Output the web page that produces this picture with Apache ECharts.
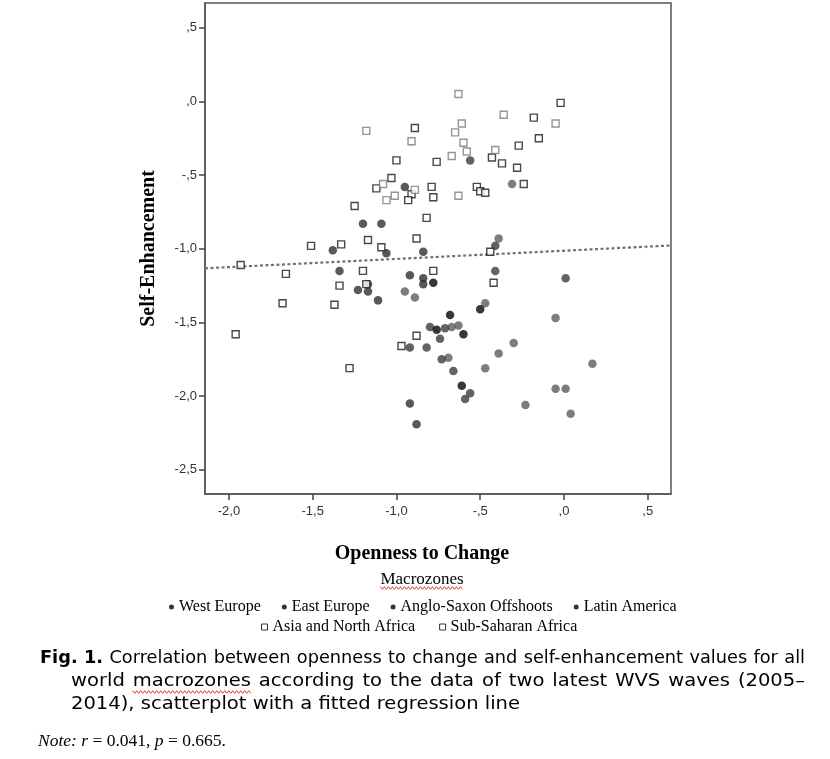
<!DOCTYPE html>
<html>
<head>
<meta charset="utf-8">
<script src="https://cdn.jsdelivr.net/npm/echarts@6/dist/echarts.min.js"></script>
<style>
html,body{margin:0;padding:0;background:#fff;}
#chart{width:830px;height:759px;}
</style>
</head>
<body>
<div id="chart"></div>
<script>
// ---- tick values / labels ----
const xTicks = [-2, -1.5, -1, -0.5, 0, 0.5];
const xTickLabels = ['-2,0', '-1,5', '-1,0', '-,5', ',0', ',5'];
const yTicks = [0.5, 0, -0.5, -1, -1.5, -2, -2.5];
const yTickLabels = [',5', ',0', '-,5', '-1,0', '-1,5', '-2,0', '-2,5'];
const xRange = [-2.143, 0.639];
const yRange = [-2.664, 0.668];

// ---- series (Openness to Change, Self-Enhancement) ----
const westEurope = [[-0.31,-0.56],[-0.39,-0.93],[-0.95,-1.29],[-0.89,-1.33],[-0.47,-1.37],[-0.05,-1.47],[-0.67,-1.53],[-0.63,-1.52],[-0.30,-1.64],[-0.39,-1.71],[-0.69,-1.74],[-0.47,-1.81],[0.17,-1.78],[-0.05,-1.95],[0.01,-1.95],[-0.23,-2.06],[0.04,-2.12]];
const eastEurope = [[-0.95,-0.58],[-1.20,-0.83],[-1.09,-0.83],[-1.38,-1.01],[-1.06,-1.03],[-0.84,-1.02],[-1.34,-1.15],[-0.92,-1.18],[-0.84,-1.20],[-0.84,-1.24],[-1.23,-1.28],[-1.17,-1.29],[-1.11,-1.35],[-1.17,-1.24],[-0.92,-2.05],[-0.88,-2.19]];
const angloSaxon = [[-0.78,-1.23],[-0.76,-1.55],[-0.50,-1.41],[-0.68,-1.45],[-0.60,-1.58],[-0.61,-1.93]];
const latinAmerica = [[-0.56,-0.40],[-0.41,-0.98],[-0.41,-1.15],[0.01,-1.20],[-0.80,-1.53],[-0.74,-1.61],[-0.92,-1.67],[-0.82,-1.67],[-0.73,-1.75],[-0.71,-1.54],[-0.66,-1.83],[-0.56,-1.98],[-0.59,-2.02]];
const asiaNorthAfrica = [[-0.89,-0.18],[-1.00,-0.40],[-0.76,-0.41],[-1.03,-0.52],[-1.12,-0.59],[-0.91,-0.63],[-0.93,-0.67],[-0.79,-0.58],[-0.78,-0.65],[-1.25,-0.71],[-0.82,-0.79],[-0.88,-0.93],[-1.17,-0.94],[-1.09,-0.99],[-1.33,-0.97],[-1.51,-0.98],[-1.93,-1.11],[-1.66,-1.17],[-1.20,-1.15],[-0.78,-1.15],[-0.02,-0.01],[-0.18,-0.11],[-0.15,-0.25],[-0.27,-0.30],[-0.43,-0.38],[-0.37,-0.42],[-0.28,-0.45],[-0.24,-0.56],[-0.52,-0.58],[-0.50,-0.61],[-0.47,-0.62],[-0.44,-1.02],[-1.34,-1.25],[-1.18,-1.24],[-1.68,-1.37],[-1.37,-1.38],[-1.96,-1.58],[-0.88,-1.59],[-0.97,-1.66],[-1.28,-1.81],[-0.42,-1.23]];
const subSaharanAfrica = [[-1.18,-0.20],[-0.91,-0.27],[-1.08,-0.56],[-1.01,-0.64],[-1.06,-0.67],[-0.89,-0.60],[-0.63,0.05],[-0.36,-0.09],[-0.05,-0.15],[-0.61,-0.15],[-0.65,-0.21],[-0.60,-0.28],[-0.58,-0.34],[-0.67,-0.37],[-0.41,-0.33],[-0.63,-0.64]];

// fitted regression line
const regIntercept = -1.013;
const regSlope = 0.0557;

const circleNames = ['West Europe', 'East Europe', 'Anglo-Saxon Offshoots', 'Latin America'];
const squareNames = ['Asia and North Africa', 'Sub-Saharan Africa'];

const captionLines = [
  'Fig. 1. Correlation between openness to change and self-enhancement values for all',
  'world macrozones according to the data of two latest WVS waves (2005\u2013',
  '2014), scatterplot with a fitted regression line'
];

// ---- helpers ----
const SERIF = 'Liberation Serif';
const SANS = 'DejaVu Sans';
const mctx = document.createElement('canvas').getContext('2d');
function tw(text, font) { mctx.font = font; return mctx.measureText(text).width; }
function fmt(ticks, labels) {
  return function (v) {
    for (let i = 0; i < ticks.length; i++) if (Math.abs(ticks[i] - v) < 1e-6) return labels[i];
    return '';
  };
}
function wavy(x0, x1, y) {
  const pts = [];
  let i = 0;
  for (let x = x0; x <= x1; x += 2, i++) pts.push([x, y + (i % 2 ? 1.3 : -1.3)]);
  return { type: 'polyline', shape: { points: pts }, style: { stroke: '#e02020', lineWidth: 0.9, fill: null }, silent: true };
}

const graphics = [];
// Macrozones heading
const mzFont = '17px ' + SERIF;
const mzW = tw('Macrozones', mzFont);
graphics.push({ type: 'text', x: 422, y: 580, style: { text: 'Macrozones', font: mzFont, fill: '#000', align: 'center', verticalAlign: 'middle' } });
graphics.push(wavy(422 - mzW / 2, 422 + mzW / 2, 588));

// caption, justified
const capFont = '17px ' + SANS;
const capBold = 'bold ' + capFont;
const capY = [659, 682, 705];
const capX0 = [40, 71, 71];
const capX1 = 805;
const spaceW = tw(' ', capFont);
function lineInfo(line, li) {
  const words = line.split(' ');
  const fonts = words.map(function (w, wi) { return (li === 0 && wi < 2) ? capBold : capFont; });
  const widths = words.map(function (w, wi) { return tw(w, fonts[wi]); });
  const total = widths.reduce(function (a, b) { return a + b; }, 0);
  return { words: words, fonts: fonts, widths: widths, total: total, natural: total + spaceW * (words.length - 1) };
}
const infos = captionLines.map(lineInfo);
const sxBase = 449 / infos[2].natural;
infos.forEach(function (inf, li) {
  const justify = li < 2;
  const sx = justify ? Math.min(sxBase, (capX1 - capX0[li] - 8) / inf.natural) : sxBase;
  const gap = justify ? (capX1 - capX0[li] - inf.total * sx) / (inf.words.length - 1) : spaceW * sx;
  let x = capX0[li];
  inf.words.forEach(function (w, wi) {
    graphics.push({ type: 'text', x: x, y: capY[li], scaleX: sx, style: { text: w, font: inf.fonts[wi], fill: '#000', align: 'left', verticalAlign: 'middle' } });
    if (w === 'macrozones') graphics.push(wavy(x, x + inf.widths[wi] * sx, capY[li] + 10));
    x += inf.widths[wi] * sx + gap;
  });
});
// note
graphics.push({
  type: 'text', x: 38, y: 741,
  style: {
    text: '{i|Note:} {i|r} = 0.041, {i|p} = 0.665.',
    font: '17.5px ' + SERIF, fill: '#000', align: 'left', verticalAlign: 'middle',
    rich: { i: { fontStyle: 'italic', fontFamily: SERIF, fontSize: 17.5 } }
  }
});

const chart = echarts.init(document.getElementById('chart'), null, { renderer: 'canvas' });

function scatter(name, data, isSquare, color) {
  return {
    name: name, type: 'scatter', data: data,
    symbol: isSquare ? 'rect' : 'circle',
    symbolSize: isSquare ? 7 : 8.5,
    itemStyle: isSquare ? { color: '#fff', borderColor: color, borderWidth: 1.4 } : { color: color },
    emphasis: { disabled: true },
    z: isSquare ? 4 : 3
  };
}

const option = {
  animation: false,
  backgroundColor: '#fff',
  grid: { left: 205, right: 159, top: 3, bottom: 265, show: true, borderColor: '#555', borderWidth: 1.5, backgroundColor: '#fff' },
  xAxis: {
    type: 'value', min: xRange[0], max: xRange[1],
    splitLine: { show: false },
    axisLine: { show: true, onZero: false, lineStyle: { color: '#555', width: 1.5 } },
    axisTick: { show: true, customValues: xTicks, length: 6, lineStyle: { color: '#444', width: 1.5 } },
    axisLabel: { customValues: xTicks, formatter: fmt(xTicks, xTickLabels), fontFamily: 'Liberation Sans', fontSize: 13, color: '#333', margin: 11 },
    name: 'Openness to Change', nameLocation: 'middle', nameGap: 50,
    nameTextStyle: { fontFamily: SERIF, fontWeight: 'bold', fontSize: 20, color: '#000', padding: [0, 32, 0, 0] }
  },
  yAxis: {
    type: 'value', min: yRange[0], max: yRange[1],
    splitLine: { show: false },
    axisLine: { show: true, onZero: false, lineStyle: { color: '#555', width: 1.5 } },
    axisTick: { show: true, customValues: yTicks, length: 6, lineStyle: { color: '#444', width: 1.5 } },
    axisLabel: { customValues: yTicks, formatter: fmt(yTicks, yTickLabels), fontFamily: 'Liberation Sans', fontSize: 13, color: '#333', margin: 8 },
    name: 'Self-Enhancement', nameLocation: 'middle', nameGap: 46, nameRotate: 90,
    nameTextStyle: { fontFamily: SERIF, fontWeight: 'bold', fontSize: 20, color: '#000' }
  },
  legend: [
    {
      data: circleNames.map(function (n) { return { name: n, icon: 'circle', itemStyle: { color: '#000', borderWidth: 0 } }; }),
      left: 164, top: 594, itemWidth: 5, itemHeight: 5, itemGap: 21, selectedMode: false,
      textStyle: { fontFamily: SERIF, fontSize: 16, color: '#000' }
    },
    {
      data: squareNames.map(function (n) { return { name: n, icon: 'rect', itemStyle: { color: '#fff', borderColor: '#000', borderWidth: 1 } }; }),
      left: 256, top: 614, itemWidth: 6, itemHeight: 6, itemGap: 24, selectedMode: false,
      textStyle: { fontFamily: SERIF, fontSize: 16, color: '#000' }
    }
  ],
  series: [
    {
      name: 'Fit', type: 'line', symbol: 'none', silent: true, z: 2,
      data: xRange.map(function (x) { return [x, regIntercept + regSlope * x]; }),
      lineStyle: { color: '#707070', width: 2.2, type: [3, 2.5] }
    },
    scatter('West Europe', westEurope, false, '#5c5c5c'),
    scatter('East Europe', eastEurope, false, '#2f2f2f'),
    scatter('Latin America', latinAmerica, false, '#3c3c3c'),
    scatter('Anglo-Saxon Offshoots', angloSaxon, false, '#050505'),
    scatter('Asia and North Africa', asiaNorthAfrica, true, '#1a1a1a'),
    scatter('Sub-Saharan Africa', subSaharanAfrica, true, '#7a7a7a')
  ],
  graphic: graphics
};
chart.setOption(option);
</script>
</body>
</html>
